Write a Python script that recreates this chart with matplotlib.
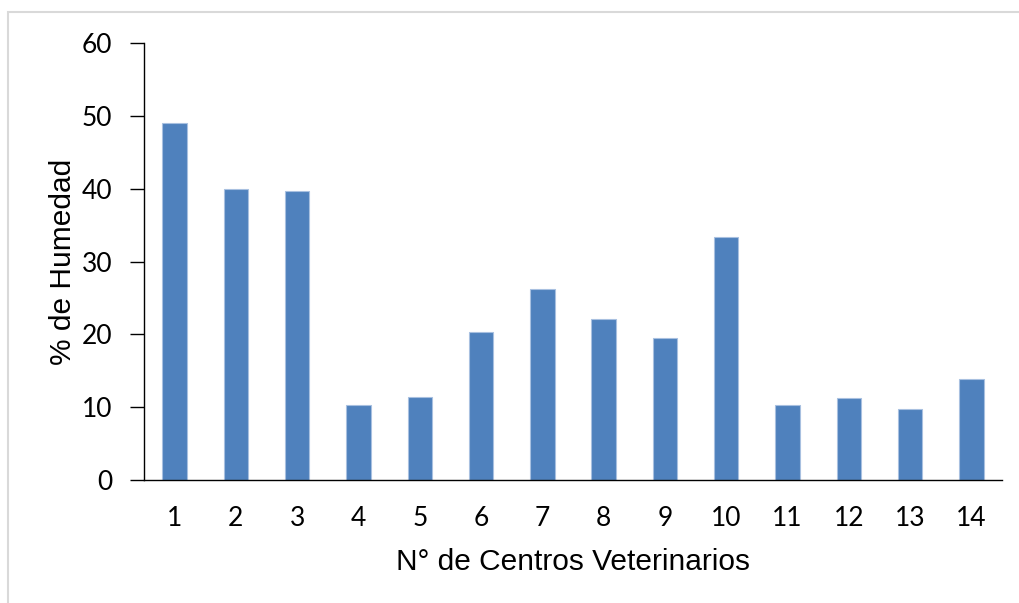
import matplotlib
matplotlib.use("Agg")
import matplotlib.pyplot as plt
from matplotlib.patches import Rectangle

categories = ["1", "2", "3", "4", "5", "6", "7", "8", "9", "10", "11", "12", "13", "14"]
humedad = [49.0, 39.9, 39.7, 10.3, 11.4, 20.3, 26.2, 22.1, 19.5, 33.4, 10.3, 11.2, 9.8, 13.9]
yticks = [0, 10, 20, 30, 40, 50, 60]

plt.rcParams['font.family'] = ['Lato', 'DejaVu Sans']

W, H = 1019, 603
fig = plt.figure(figsize=(W / 100, H / 100), dpi=100)
fig.patch.set_facecolor("white")

# outer light frame
fig.add_artist(Rectangle((8 / W, -0.05), 1.2, 1 - 12 / H + 0.05, transform=fig.transFigure,
                         fill=False, edgecolor="#d9d9d9", linewidth=1.5))

left, right = 144 / W, 1002 / W
bottom, top = 1 - 480 / H, 1 - 43 / H
ax = fig.add_axes([left, bottom, right - left, top - bottom])

x = list(range(len(categories)))
ax.bar(x, humedad, width=0.4, color="#4F81BD", edgecolor="#a8c0e0", linewidth=0.8, zorder=2)

ax.set_xlim(-0.5, len(categories) - 0.5)
ax.set_ylim(0, 60)
ax.set_yticks(yticks)
ax.set_xticks(x)
ax.set_xticklabels(categories)

for s in ["top", "right"]:
    ax.spines[s].set_visible(False)
ax.spines["left"].set_color("black")
ax.spines["bottom"].set_color("black")
ax.spines["left"].set_linewidth(1.0)
ax.spines["bottom"].set_linewidth(1.0)

ax.tick_params(axis="y", length=10, width=1.0, labelsize=19, pad=13)
ax.tick_params(axis="x", length=0, labelsize=19, pad=19)

label_font = ['Liberation Sans', 'DejaVu Sans']
ax.set_ylabel("% de Humedad", fontsize=21.5, family=label_font, labelpad=3)
ax.set_xlabel("N° de Centros Veterinarios", fontsize=21.5, family=label_font, labelpad=12)

fig.savefig("out.png", dpi=100)
